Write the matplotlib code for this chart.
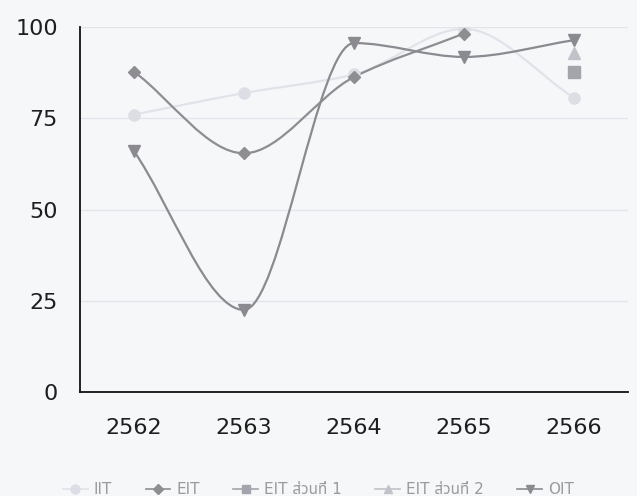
import matplotlib
matplotlib.use("Agg")
import matplotlib.pyplot as plt
from matplotlib.path import Path
from matplotlib.patches import PathPatch
from matplotlib.lines import Line2D
import numpy as np

plt.rcParams['font.family'] = ['DejaVu Sans', 'Noto Sans', 'Noto Sans Thai', 'Liberation Sans',
                               'Open Sans', 'Roboto', 'Lato', 'Inter']

years = ['2562', '2563', '2564', '2565', '2566']
iit = [76.0, 81.9, 87.0, 99.5, 80.6]
eit = [87.8, 65.4, 86.3, 98.2, None]
eit_part1 = [None, None, None, None, 87.6]
eit_part2 = [None, None, None, None, 92.9]
oit = [66.0, 22.5, 95.6, 91.8, 96.4]


def smooth_path(xs, ys):
    # monotone cubic (flat at local peaks/dips), drawn as bezier segments
    x = np.asarray(xs, float)
    y = np.asarray(ys, float)
    n = len(x)
    d = np.diff(y) / np.diff(x)
    m = np.zeros(n)
    m[0] = d[0]
    m[-1] = d[-1]
    for i in range(1, n - 1):
        if d[i - 1] * d[i] > 0:
            m[i] = 2 * d[i - 1] * d[i] / (d[i - 1] + d[i])
    verts = [(x[0], y[0])]
    codes = [Path.MOVETO]
    for i in range(n - 1):
        h = x[i + 1] - x[i]
        verts += [(x[i] + h / 3, y[i] + m[i] * h / 3),
                  (x[i + 1] - h / 3, y[i + 1] - m[i + 1] * h / 3),
                  (x[i + 1], y[i + 1])]
        codes += [Path.CURVE4] * 3
    return Path(verts, codes)


fig = plt.figure(figsize=(6.37, 4.96), dpi=100, facecolor='#f6f7f9')
ax = fig.add_axes([80 / 637, 104 / 496, 548 / 637, 365 / 496])
ax.set_facecolor('#f6f7f9')

series = [
    ('IIT', iit, 'o', '#dcdde5', '#e2e3ea', 8),
    ('EIT', eit, 'D', '#8e8e92', '#8e8e92', 6),
    ('EIT ส่วนที่ 1', eit_part1, 's', '#a4a4ac', '#a4a4ac', 8),
    ('EIT ส่วนที่ 2', eit_part2, '^', '#c2c3ca', '#c2c3ca', 8),
    ('OIT', oit, 'v', '#8a8a90', '#8a8a90', 8),
]

handles = []
for name, vals, mk, mcol, lcol, ms in series:
    xs = [i for i, v in enumerate(vals) if v is not None]
    ys = [v for v in vals if v is not None]
    if len(xs) > 1:
        ax.add_patch(PathPatch(smooth_path(xs, ys), fill=False, edgecolor=lcol,
                               lw=1.6, zorder=2))
    ax.plot(xs, ys, linestyle='none', marker=mk, markersize=ms, color=mcol,
            markeredgecolor=mcol, zorder=3)
    handles.append(Line2D([], [], color=lcol, lw=1.2, marker=mk, markersize=ms * 0.8,
                          markerfacecolor=mcol, markeredgecolor=mcol))

ax.set_xlim(-0.49, 4.49)
ax.set_ylim(0, 100)
ax.set_xticks(range(len(years)))
ax.set_xticklabels(years)
ax.set_yticks([0, 25, 50, 75, 100])
ax.tick_params(axis='x', length=0, pad=19, labelsize=16, labelcolor='#1e1e1e')
ax.tick_params(axis='y', length=0, pad=16, labelsize=16, labelcolor='#1e1e1e')
ax.grid(axis='y', color='#e4e5ea', lw=1)
ax.set_axisbelow(True)
for s in ['top', 'right']:
    ax.spines[s].set_visible(False)
for s in ['left', 'bottom']:
    ax.spines[s].set_color('#111111')
    ax.spines[s].set_linewidth(1.3)

leg = fig.legend(handles, [s[0] for s in series], loc='center', ncol=5,
                 bbox_to_anchor=(0.5, 6 / 496), frameon=False, fontsize=11,
                 handlelength=1.6, handletextpad=0.4, columnspacing=2.2,
                 labelcolor='#9a9a9e')

fig.savefig('out.png', dpi=100, facecolor=fig.get_facecolor())
